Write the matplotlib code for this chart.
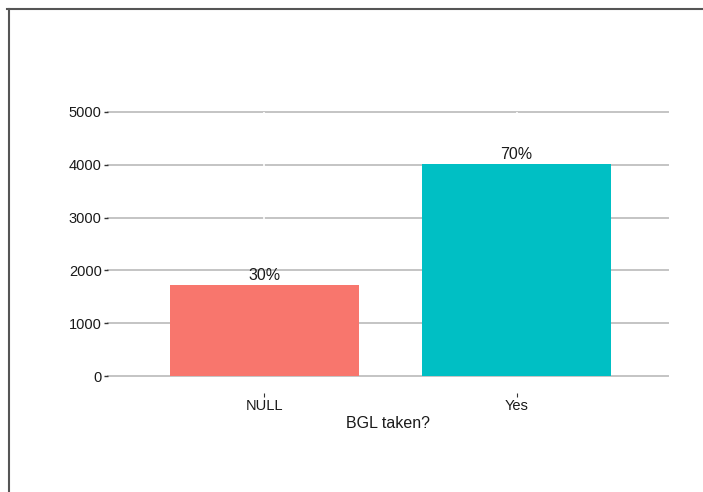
import matplotlib
matplotlib.use('Agg')
import matplotlib.pyplot as plt
from matplotlib.lines import Line2D

plt.rcParams['font.family'] = ['Liberation Sans', 'DejaVu Sans']

# data
categories = ['NULL', 'Yes']
counts = [1723, 4015]
labels = ['30%', '70%']
colors = ['#F8766D', '#00BFC4']
yticks = [0, 1000, 2000, 3000, 4000, 5000]

fig = plt.figure(figsize=(7.03, 4.92), dpi=100)
ax = fig.add_axes([108/703, (492-376)/492, 560/703, 264/492])

x = list(range(len(categories)))
ax.bar(x, counts, width=0.75, color=colors, zorder=3)
for xi, c, lab in zip(x, counts, labels):
    ax.text(xi, c + 40, lab, ha='center', va='bottom', fontsize=11.5, color='#1a1a1a')

ax.set_xlim(-0.62, 1.60)
ax.set_ylim(0, 5000)
ax.set_yticks(yticks)
ax.set_xticks(x)
ax.set_xticklabels(categories)

# horizontal grid lines, with white breaks at the category centres
for yv in yticks:
    ax.axhline(yv, color='#c4c4c4', lw=1.4, zorder=1, clip_on=False)
for xi in x:
    ax.axvline(xi, color='white', lw=1.2, zorder=2)

for s in ax.spines.values():
    s.set_visible(False)
ax.spines['bottom'].set_position(('outward', 12))

ax.tick_params(axis='y', length=3, width=1, color='#333333', pad=1.5,
               labelsize=10.5, labelcolor='#1a1a1a')
ax.tick_params(axis='x', length=3, width=0.8, color='#333333', pad=1.5,
               labelsize=10.5, labelcolor='#1a1a1a')
ax.set_xlabel('BGL taken?', fontsize=11.5, color='#1a1a1a', labelpad=2)

# frame lines from the screenshot
fig.add_artist(Line2D([7/703, 1], [1 - 9/492, 1 - 9/492], color='#555555', lw=1.5,
                      transform=fig.transFigure))
fig.add_artist(Line2D([8.5/703, 8.5/703], [0, 1 - 9/492], color='#555555', lw=1.5,
                      transform=fig.transFigure))

fig.savefig('out.png', dpi=100)
